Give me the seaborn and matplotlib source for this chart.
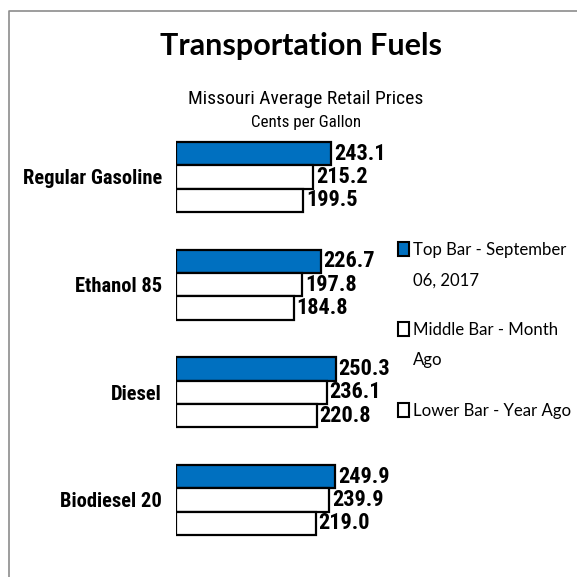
import pandas as pd
import seaborn as sns
import matplotlib.pyplot as plt
from matplotlib.lines import Line2D
from matplotlib.patches import Rectangle

# data
fuels = ["Regular Gasoline", "Ethanol 85", "Diesel", "Biodiesel 20"]
periods = ["Top Bar - September 06, 2017", "Middle Bar - Month Ago", "Lower Bar - Year Ago"]
current = [243.1, 226.7, 250.3, 249.9]
month_ago = [215.2, 197.8, 236.1, 239.9]
year_ago = [199.5, 184.8, 220.8, 219.0]
legend_labels = ["Top Bar - September\n06, 2017", "Middle Bar - Month\nAgo", "Lower Bar - Year Ago"]
colors = ["#0070C0", "white", "white"]

df = pd.DataFrame({
    "fuel": fuels * 3,
    "period": [periods[0]] * 4 + [periods[1]] * 4 + [periods[2]] * 4,
    "price": current + month_ago + year_ago,
})

narrow = ["Liberation Sans Narrow", "DejaVu Sans Condensed", "Roboto Condensed", "DejaVu Sans"]

sns.set_style("white")
plt.rcParams["text.color"] = "black"
plt.rcParams["ytick.color"] = "black"
plt.rcParams["ytick.labelcolor"] = "black"

fig = plt.figure(figsize=(5.77, 5.77), dpi=100)
ax = fig.add_axes([176 / 577, 0.0215, 191.4 / 577, 0.7837])

sns.barplot(data=df, y="fuel", x="price", hue="period", orient="h",
            hue_order=periods, palette=colors, saturation=1, edgecolor="black",
            linewidth=1.6, width=0.65, legend=False, ax=ax)

for cont in ax.containers:
    ax.bar_label(cont, fmt="%.1f", padding=2, fontsize=16, color="black",
                 fontweight="bold", family=narrow)

ax.set_xlim(0, 300)
ax.set_ylim(3.6, -0.6)
ax.set_xlabel("")
ax.set_ylabel("")
ax.set_xticks([])
sns.despine(ax=ax, left=True, bottom=True)
ax.tick_params(axis="y", length=0, pad=10)
for lab in ax.get_yticklabels():
    lab.set_fontfamily(narrow)
    lab.set_fontweight("bold")
    lab.set_fontsize(14.8)
    lab.set_color("black")

# titles
fig.text(301 / 577, 1 - 46 / 577, "Transportation Fuels", ha="center", va="center",
         fontsize=22, fontweight="bold", family=["Lato", "DejaVu Sans"])
fig.text(306 / 577, 1 - 99 / 577, "Missouri Average Retail Prices", ha="center",
         va="center", fontsize=14, family=narrow)
fig.text(306 / 577, 1 - 123 / 577, "Cents per Gallon", ha="center", va="center",
         fontsize=12.2, family=narrow)

# legend
leg_y = [249, 329, 410]
for lbl, col, y in zip(legend_labels, colors, leg_y):
    fig.patches.append(Rectangle((398 / 577, 1 - (y + 7) / 577), 11 / 577, 14 / 577,
                                 transform=fig.transFigure, facecolor=col,
                                 edgecolor="black", linewidth=1.5))
    fig.text(413 / 577, 1 - (y - 7) / 577, lbl, ha="left", va="top",
             fontsize=12.1, linespacing=2.1, family=["Lato", "DejaVu Sans"])

# frame
fig.lines.append(Line2D([9 / 577, 9 / 577, 1], [0, 1 - 11 / 577, 1 - 11 / 577],
                        transform=fig.transFigure, color="#8c8c8c", linewidth=1.2))

plt.savefig("out.png", dpi=100)
